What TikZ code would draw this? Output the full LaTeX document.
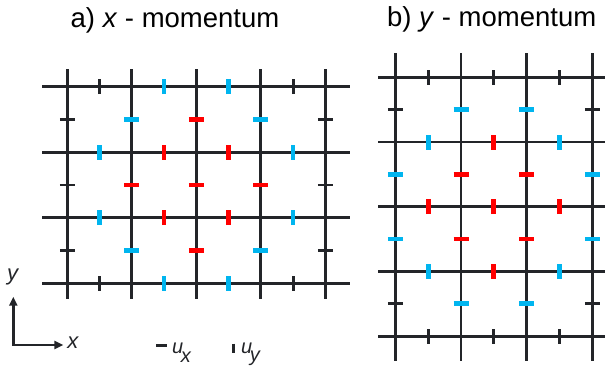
\documentclass[tikz,border=0pt]{standalone}
\usepackage{fontspec}
\setmainfont{Liberation Sans}
\setsansfont{Liberation Sans}
\usetikzlibrary{arrows.meta}
\definecolor{ink}{HTML}{232529}
\definecolor{cyanbar}{HTML}{00B5EF}
\definecolor{redbar}{HTML}{FF0000}

\tikzset{
  gridline/.style={ink, line width=2.9pt},
  thinbar/.style={ink, line width=2.9pt},
  thickbar/.style={line width=4.8pt},
}
\newcommand{\uxbar}[3]{\draw[#1] (#2,#3) ++(-7.5pt,0) -- ++(15pt,0);}
\newcommand{\uybar}[3]{\draw[#1] (#2,#3) ++(0,-7.5pt) -- ++(0,15pt);}

\begin{document}
\begin{tikzpicture}[x=1pt, y=-1pt, font=\sffamily]
  \useasboundingbox (0,0) rectangle (605,368);

  \node[anchor=base, inner sep=0, font=\fontsize{27.5}{30}\selectfont] (titlea) at (175,27) {a) \textit{x} - momentum};
  \node[anchor=base, inner sep=0, font=\fontsize{27.5}{30}\selectfont] (titleb) at (491.7,26.7) {b) \textit{y} - momentum};

  \begin{scope}[shift={(67.3pt,-86.7pt)}, x=32.25pt, y=-32.75pt]
    \foreach \i in {0,2,...,8} \draw[gridline] (\i,-0.54) -- (\i,6.48);
    \foreach \j in {0,2,4,6} \draw[gridline] (-0.78,\j) -- (8.77,\j);
    \foreach \i/\j in {0/1,8/1,0/3,8/3,0/5,8/5} {\uxbar{thinbar}{\i}{\j}}
    \foreach \i/\j in {2/1,6/1,2/5,6/5} {\uxbar{thickbar,cyanbar}{\i}{\j}}
    \foreach \i/\j in {4/1,2/3,4/3,6/3,4/5} {\uxbar{thickbar,redbar}{\i}{\j}}
    \foreach \i/\j in {1/0,7/0,1/6,7/6} {\uybar{thinbar}{\i}{\j}}
    \foreach \i/\j in {3/0,5/0,1/2,7/2,1/4,7/4,3/6,5/6} {\uybar{thickbar,cyanbar}{\i}{\j}}
    \foreach \i/\j in {3/2,5/2,3/4,5/4} {\uybar{thickbar,redbar}{\i}{\j}}
  \end{scope}

  \begin{scope}[shift={(395.3pt,-77.3pt)}, x=32.85pt, y=-32.35pt]
    \foreach \i in {0,2,4,6} \draw[gridline] (\i,-0.74) -- (\i,8.76);
    \foreach \j in {0,2,...,8} \draw[gridline] (-0.52,\j) -- (6.4,\j);
    \foreach \i/\j in {0/1,6/1,0/7,6/7} {\uxbar{thinbar}{\i}{\j}}
    \foreach \i/\j in {2/1,4/1,0/3,6/3,0/5,6/5,2/7,4/7} {\uxbar{thickbar,cyanbar}{\i}{\j}}
    \foreach \i/\j in {2/3,4/3,2/5,4/5} {\uxbar{thickbar,redbar}{\i}{\j}}
    \foreach \i/\j in {1/0,3/0,5/0,1/8,3/8,5/8} {\uybar{thinbar}{\i}{\j}}
    \foreach \i/\j in {1/2,5/2,1/6,5/6} {\uybar{thickbar,cyanbar}{\i}{\j}}
    \foreach \i/\j in {3/2,1/4,3/4,5/4,3/6} {\uybar{thickbar,redbar}{\i}{\j}}
  \end{scope}

  \coordinate (origin) at (13.3,345);
  \coordinate (ytip) at (13.3,296.7);
  \coordinate (xtip) at (63.3,345);
  \draw[ink, line width=2.9pt, {Triangle[length=9pt,width=8pt]}-{Triangle[length=9pt,width=8pt]}] (ytip) -- (origin) -- (xtip);
  \node[ink, inner sep=0, font=\fontsize{22}{24}\selectfont] (xlabel) at (73.3,343) {\textit{x}};
  \node[ink, inner sep=0, font=\fontsize{22}{24}\selectfont] (ylabel) at (13.3,277) {\textit{y}};

  \draw[ink, line width=3.4pt] (156,345.5) -- (166.7,345.5);
  \node[ink, anchor=base west, inner sep=0, font=\fontsize{20}{22}\selectfont] (uxlabel) at (172,353) {\textit{u}\kern-2.5pt\raisebox{-9pt}{\textit{x}}};
  \draw[ink, line width=3.2pt] (233.8,343.5) -- (233.8,352.5);
  \node[ink, anchor=base west, inner sep=0, font=\fontsize{20}{22}\selectfont] (uylabel) at (241,353) {\textit{u}\kern-2.5pt\raisebox{-8.7pt}{\textit{y}}};
\end{tikzpicture}
\end{document}
